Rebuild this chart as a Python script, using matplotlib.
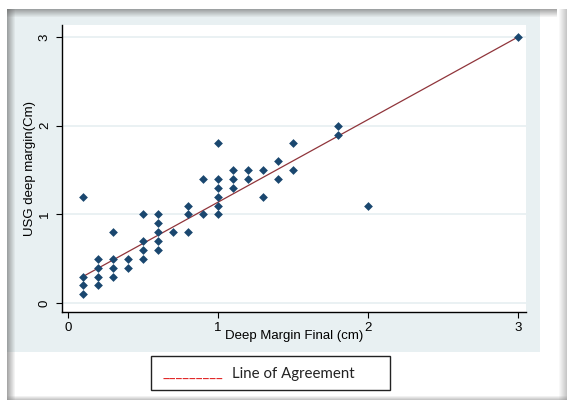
import numpy as np
import matplotlib.pyplot as plt
from matplotlib.patches import Rectangle

# Deep margin: final (pathology) vs USG estimate
deep_final = [0.1, 0.1, 0.1, 0.1,
              0.2, 0.2, 0.2, 0.2,
              0.3, 0.3, 0.3, 0.3,
              0.4, 0.4,
              0.5, 0.5, 0.5, 0.5,
              0.6, 0.6, 0.6, 0.6, 0.6,
              0.7,
              0.8, 0.8, 0.8,
              0.9, 0.9,
              1.0, 1.0, 1.0, 1.0, 1.0, 1.0,
              1.1, 1.1, 1.1,
              1.2, 1.2,
              1.3, 1.3,
              1.4, 1.4,
              1.5, 1.5,
              1.8, 1.8,
              2.0,
              3.0]
usg_deep = [1.2, 0.3, 0.2, 0.1,
            0.5, 0.4, 0.3, 0.2,
            0.8, 0.5, 0.4, 0.3,
            0.5, 0.4,
            1.0, 0.7, 0.6, 0.5,
            1.0, 0.9, 0.8, 0.7, 0.6,
            0.8,
            1.1, 1.0, 0.8,
            1.4, 1.0,
            1.8, 1.4, 1.3, 1.2, 1.1, 1.0,
            1.5, 1.4, 1.3,
            1.5, 1.4,
            1.5, 1.2,
            1.6, 1.4,
            1.8, 1.5,
            2.0, 1.9,
            1.1,
            3.0]

# fitted "line of agreement" end points
line_x = [0.1, 3.0]
line_y = [0.30, 3.0]

ticks = [0, 1, 2, 3]

navy = '#1a476f'
maroon = '#90353b'
light = '#e8f0f2'

W, H = 567, 400
fig = plt.figure(figsize=(W / 100, H / 100), dpi=100)
fig.patch.set_facecolor('white')

# background: light panel + window shadow edges, in pixel coords
bg = fig.add_axes([0, 0, 1, 1], zorder=-1)
bg.set_xlim(0, W)
bg.set_ylim(H, 0)
bg.axis('off')
bg.add_patch(Rectangle((7, 9), 533, 343, color=light, lw=0))
for i in range(8):
    a = 0.55 * (1 - i / 8)
    bg.add_patch(Rectangle((7, 9 + i), 550, 1, color='#606060', alpha=a, lw=0))
    bg.add_patch(Rectangle((7 + i, 9), 1, 391, color='#606060', alpha=a, lw=0))
    bg.add_patch(Rectangle((566 - i, 9), 1, 391, color='#808080', alpha=a * 0.8, lw=0))
for i in range(4):
    bg.add_patch(Rectangle((7, 399 - i), 560, 1, color='#909090', alpha=0.5 * (1 - i / 4), lw=0))

# legend box under the plot
bg.add_patch(Rectangle((151, 356), 239, 34, facecolor='white', edgecolor='#222222', lw=1))
fig.text(163 / W, 1 - 378 / H, '_________', color='#e02020', fontsize=10.5,
         family='Lato', va='baseline')
fig.text(232 / W, 1 - 378 / H, 'Line of Agreement', color='#222222', fontsize=10.8,
         family='Lato', va='baseline')

# main plot
ax = fig.add_axes([62 / W, 88 / H, 464 / W, 287 / H])
ax.set_facecolor('white')
ax.scatter(deep_final, usg_deep, marker='D', s=20, color=navy, lw=0, zorder=3)
ax.plot(line_x, line_y, color=maroon, lw=0.9, zorder=2)

ax.set_xlim(-0.04, 3.053)
ax.set_ylim(-0.10, 3.135)
ax.set_xticks(ticks)
ax.set_yticks(ticks)
ax.set_yticklabels([str(t) for t in ticks], rotation=90, va='center')
ax.grid(axis='y', color='#e6eff1', lw=1.2)
ax.set_axisbelow(True)

for s in ['top', 'right']:
    ax.spines[s].set_visible(False)
for s in ['left', 'bottom']:
    ax.spines[s].set_color('black')
    ax.spines[s].set_linewidth(1)

ax.tick_params(axis='both', length=4, width=0.8, labelsize=9.5, colors='black')
ax.tick_params(axis='x', pad=3)
ax.tick_params(axis='y', pad=4)
for lab in ax.get_xticklabels() + ax.get_yticklabels():
    lab.set_family('Liberation Sans')

ax.set_xlabel('Deep Margin Final (cm)', fontsize=9.5, family='Liberation Sans', labelpad=-3)
ax.set_ylabel('USG deep margin(Cm)', fontsize=9.5, family='Liberation Sans', labelpad=2)

fig.savefig('out.png', dpi=100)
